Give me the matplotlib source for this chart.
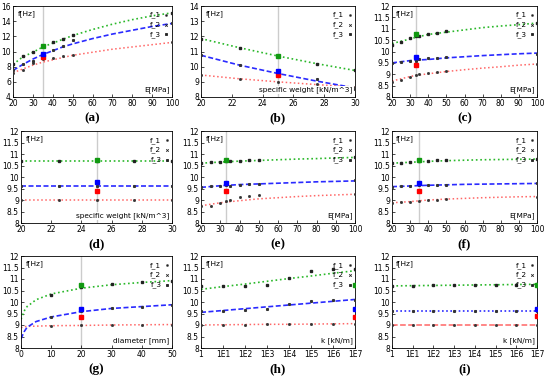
import numpy as np
import matplotlib.pyplot as plt

# (a) E[MPa]
a_x = [20, 25, 30, 35, 40, 45, 50, 60, 70, 80, 90, 100]
a_f3 = [8.3, 9.3, 9.9, 10.6, 11.1, 11.6, 12.1, 12.9, 13.6, 14.2, 14.7, 15.1]
a_f2 = [7.5, 8.3, 9.0, 9.6, 10.1, 10.6, 11.0, 11.7, 12.3, 12.8, 13.3, 13.7]
a_f1 = [7.2, 7.7, 8.2, 8.6, 8.9, 9.2, 9.5, 9.9, 10.3, 10.6, 10.9, 11.2]
a_px = [20, 25, 30, 35, 40, 45, 50, 100]
a_p3 = [8.3, 9.4, 10.0, 10.7, 11.2, 11.7, 12.2, 15.1]
a_p2 = [7.5, 8.3, 8.8, 9.7, 10.2, 10.7, 11.5, 13.7]
a_p1 = [7.1, 7.5, 8.5, 9.0, 9.2, 9.4, 9.6, 11.2]
a_ref = [35, 9.3, 9.7, 10.7]

# (b) specific weight
b_x = [20, 22.5, 25, 27.5, 30]
b_f3 = [11.85, 11.25, 10.7, 10.2, 9.75]
b_f2 = [10.75, 10.1, 9.55, 9.05, 8.6]
b_f1 = [9.45, 9.2, 9.0, 8.82, 8.65]
b_px = [20, 22.5, 25, 27.5, 30]
b_p3 = [11.85, 11.25, 10.7, 10.2, 9.75]
b_p2 = [10.75, 10.1, 9.6, 9.2, 8.5]
b_p1 = [9.45, 9.2, 9.0, 8.85, 8.65]
b_ref = [25, 9.45, 9.7, 10.7]

# (c) E[MPa]
c_x = [20, 30, 33, 40, 50, 60, 70, 80, 90, 100]
c_f3 = [10.35, 10.55, 10.62, 10.75, 10.85, 10.95, 11.05, 11.12, 11.18, 11.25]
c_f2 = [9.5, 9.6, 9.62, 9.65, 9.72, 9.77, 9.82, 9.86, 9.9, 9.93]
c_f1 = [8.7, 8.9, 8.95, 9.02, 9.12, 9.2, 9.27, 9.33, 9.4, 9.45]
c_px = [20, 25, 30, 33, 35, 40, 45, 50, 100]
c_p3 = [10.3, 10.4, 10.6, 10.7, 10.7, 10.75, 10.8, 10.9, 11.25]
c_p2 = [9.5, 9.55, 9.6, 9.6, 9.65, 9.7, 9.7, 9.75, 9.9]
c_p1 = [8.65, 8.75, 8.9, 8.95, 9.0, 9.05, 9.1, 9.15, 9.45]
c_ref = [33, 9.4, 9.75, 10.75]

# (d) specific weight
d_x = [20, 22.5, 25, 27.5, 30]
d_f3 = [10.7, 10.7, 10.7, 10.7, 10.7]
d_f2 = [9.62, 9.62, 9.62, 9.62, 9.62]
d_f1 = [9.0, 9.0, 9.0, 9.0, 9.0]
d_px = [20, 22.5, 25, 27.5, 30]
d_p3 = [10.7, 10.7, 10.7, 10.7, 10.7]
d_p2 = [9.62, 9.62, 9.62, 9.62, 9.62]
d_p1 = [9.0, 9.0, 9.0, 9.0, 9.0]
d_ref = [25, 9.4, 9.8, 10.75]

# (e) E[MPa]
e_x = [20, 30, 40, 50, 60, 70, 80, 90, 100]
e_f3 = [10.6, 10.65, 10.69, 10.72, 10.75, 10.78, 10.8, 10.83, 10.85]
e_f2 = [9.55, 9.62, 9.67, 9.7, 9.73, 9.76, 9.79, 9.81, 9.83]
e_f1 = [8.75, 8.88, 8.97, 9.05, 9.1, 9.15, 9.19, 9.22, 9.25]
e_px = [20, 25, 30, 33, 35, 40, 45, 50, 100]
e_p3 = [10.6, 10.65, 10.65, 10.7, 10.7, 10.7, 10.75, 10.75, 10.85]
e_p2 = [9.55, 9.6, 9.62, 9.65, 9.63, 9.67, 9.68, 9.7, 9.85]
e_p1 = [8.75, 8.75, 8.85, 8.95, 9.0, 9.15, 9.18, 9.2, 9.25]
e_ref = [33, 9.37, 9.72, 10.75]

# (f) E[MPa]
f_x = [20, 30, 40, 50, 60, 70, 80, 90, 100]
f_f3 = [10.6, 10.64, 10.68, 10.71, 10.73, 10.75, 10.76, 10.77, 10.78]
f_f2 = [9.58, 9.61, 9.64, 9.66, 9.68, 9.69, 9.7, 9.71, 9.72]
f_f1 = [8.88, 8.93, 9.0, 9.04, 9.07, 9.1, 9.12, 9.14, 9.15]
f_px = [20, 25, 30, 35, 40, 45, 50, 100]
f_p3 = [10.6, 10.62, 10.65, 10.7, 10.7, 10.72, 10.73, 10.78]
f_p2 = [9.58, 9.6, 9.62, 9.65, 9.65, 9.66, 9.66, 9.72]
f_p1 = [8.88, 8.9, 8.93, 8.97, 9.0, 9.02, 9.05, 9.15]
f_ref = [35, 9.38, 9.72, 10.75]

# (g) diameter [mm]
g_x = [0, 1, 2, 5, 10, 20, 30, 40, 50]
g_f3 = [9.25, 9.6, 9.8, 10.1, 10.35, 10.6, 10.75, 10.85, 10.93]
g_f2 = [8.4, 8.7, 8.9, 9.15, 9.35, 9.58, 9.72, 9.8, 9.88]
g_f1 = [8.88, 8.92, 8.94, 8.95, 8.97, 8.98, 9.0, 9.01, 9.02]
g_px = [10, 20, 30, 40, 50]
g_p3 = [10.32, 10.65, 10.78, 10.85, 10.93]
g_p2 = [9.35, 9.6, 9.72, 9.8, 9.88]
g_p1 = [8.97, 9.0, 9.0, 9.0, 9.02]
g_ref = [20, 9.35, 9.7, 10.72]

# (h) k [kN/m], x = log10(k)
h_x = [0, 1, 2, 3, 4, 5, 6, 7]
h_f3 = [10.55, 10.67, 10.78, 10.9, 11.02, 11.13, 11.25, 11.36]
h_f2 = [9.55, 9.63, 9.71, 9.79, 9.87, 9.95, 10.03, 10.11]
h_f1 = [9.0, 9.01, 9.02, 9.03, 9.03, 9.04, 9.05, 9.06]
h_px = [0, 1, 2, 3, 4, 5, 6, 7]
h_p3 = [10.7, 10.7, 10.7, 10.75, 11.05, 11.35, 11.45, 11.45]
h_p2 = [9.6, 9.6, 9.65, 9.68, 9.9, 10.05, 10.08, 10.1]
h_p1 = [9.0, 9.0, 9.02, 9.03, 9.03, 9.03, 9.03, 9.05]
h_ref = [7, 9.35, 9.7, 10.72]

# (i) k [kN/m]
i_x = [0, 1, 2, 3, 4, 5, 6, 7]
i_f3 = [10.7, 10.71, 10.72, 10.73, 10.74, 10.75, 10.76, 10.77]
i_f2 = [9.62, 9.62, 9.62, 9.62, 9.62, 9.62, 9.62, 9.62]
i_f1 = [9.0, 9.0, 9.0, 9.0, 9.0, 9.0, 9.0, 9.0]
i_px = [0, 1, 2, 3, 4, 5, 6, 7]
i_p3 = [10.7, 10.68, 10.72, 10.73, 10.75, 10.75, 10.76, 10.78]
i_p2 = [9.62, 9.62, 9.62, 9.62, 9.62, 9.62, 9.62, 9.62]
i_p1 = [9.0, 9.0, 9.0, 9.0, 9.0, 9.0, 9.0, 9.0]
i_ref = [7, 9.4, 9.7, 10.75]

k_ticks = [0, 1, 2, 3, 4, 5, 6, 7]
k_labels = ["1", "1E1", "1E2", "1E3", "1E4", "1E5", "1E6", "1E7"]

RED = "#ff6666"
BLUE = "#2a2aff"
GREEN = "#2ab82a"

fig = plt.figure(figsize=(5.5, 3.78), dpi=100)
W, H = 550.0, 378.0


def make_ax(l, r, t, b):
    return fig.add_axes([l / W, 1 - b / H, (r - l) / W, (b - t) / H])


def panel(ax, x, f1, f2, f3, px, p1, p2, p3, ref, xlim, ylim, yticks, xticks,
          xlabel, tag, vline=True, styles=(":", "--", ":")):
    if vline:
        ax.axvline(ref[0], color="#cccccc", lw=1.0, zorder=1)
    ax.plot(x, f1, ls=styles[0], color=RED, lw=1.1, zorder=2)
    ax.plot(x, f2, ls=styles[1], color=BLUE, lw=1.2, dashes=(3, 1.5) if styles[1] == "--" else (1, 1.5), zorder=2)
    ax.plot(x, f3, ls=styles[2], color=GREEN, lw=1.2, zorder=2)
    ax.plot(px, p1, "s", color="#333333", ms=1.0, zorder=3)
    ax.plot(px, p2, "s", color="#333333", ms=1.2, zorder=3)
    ax.plot(px, p3, "s", color="#222222", ms=1.5, zorder=3)
    ax.plot([ref[0]], [ref[1]], "s", color="red", ms=2.6, zorder=4)
    ax.plot([ref[0]], [ref[2]], "s", color="blue", ms=2.6, zorder=4)
    ax.plot([ref[0]], [ref[3]], "s", color="#119911", ms=2.6, zorder=4)
    ax.set_xlim(xlim)
    ax.set_ylim(ylim)
    ax.set_yticks(yticks)
    ax.set_xticks(xticks)
    ax.tick_params(direction="in", labelsize=5.5, length=2, width=0.5, pad=1.5)
    for s in ax.spines.values():
        s.set_linewidth(0.6)
    ax.text(0.03, 0.95, "f[Hz]", transform=ax.transAxes, fontsize=5.3, va="top", ha="left")
    ax.text(0.985, 0.04, xlabel, transform=ax.transAxes, fontsize=5.3, va="bottom", ha="right",
            bbox=dict(facecolor="white", edgecolor="none", pad=0.3), zorder=5)
    for k, (lab, mk, ms) in enumerate([("f_1", "s", 1.0), ("f_2", "x", 1.8), ("f_3", "s", 1.8)]):
        yy = 0.90 - 0.105 * k
        ax.text(0.93, yy, lab, transform=ax.transAxes, fontsize=5.3, va="center", ha="right", zorder=5)
        ax.plot([0.965], [yy], mk, color="#222222", ms=ms, mew=0.6, transform=ax.transAxes,
                clip_on=False, zorder=5)
    xm = np.mean(ax.get_position().intervalx)
    yb = ax.get_position().y0
    fig.text(xm, yb - 0.056, tag, ha="center", va="center", fontsize=9.5,
             fontweight="bold", family="Liberation Serif")


E_ticks = list(range(20, 101, 10))
sw_ticks = [20, 22, 24, 26, 28, 30]
y8 = np.arange(8, 12.01, 0.5)
y8_lab = ["8", "8.5", "9", "9.5", "10", "10.5", "11", "11.5", "12"]

ax = make_ax(13, 172, 6, 97)
panel(ax, a_x, a_f1, a_f2, a_f3, a_px, a_p1, a_p2, a_p3, a_ref, (20, 100), (4, 16),
      range(4, 17, 2), E_ticks, "E[MPa]", "(a)")

ax = make_ax(201, 355, 6, 97)
panel(ax, b_x, b_f1, b_f2, b_f3, b_px, b_p1, b_p2, b_p3, b_ref, (20, 30), (8, 14),
      range(8, 15), sw_ticks, "specific weight [kN/m^3]", "(b)")

ax = make_ax(392, 537, 6, 97)
panel(ax, c_x, c_f1, c_f2, c_f3, c_px, c_p1, c_p2, c_p3, c_ref, (20, 100), (8, 12),
      y8, E_ticks, "E[MPa]", "(c)")
ax.set_yticklabels(y8_lab)

ax = make_ax(21, 172, 131, 223)
panel(ax, d_x, d_f1, d_f2, d_f3, d_px, d_p1, d_p2, d_p3, d_ref, (20, 30), (8, 12),
      y8, sw_ticks, "specific weight [kN/m^3]", "(d)")
ax.set_yticklabels(y8_lab)

ax = make_ax(201, 355, 131, 223)
panel(ax, e_x, e_f1, e_f2, e_f3, e_px, e_p1, e_p2, e_p3, e_ref, (20, 100), (8, 12),
      y8, E_ticks, "E[MPa]", "(e)")
ax.set_yticklabels(y8_lab)

ax = make_ax(392, 537, 131, 223)
panel(ax, f_x, f_f1, f_f2, f_f3, f_px, f_p1, f_p2, f_p3, f_ref, (20, 100), (8, 12),
      y8, E_ticks, "E[MPa]", "(f)")
ax.set_yticklabels(y8_lab)

ax = make_ax(21, 172, 256, 348)
panel(ax, g_x, g_f1, g_f2, g_f3, g_px, g_p1, g_p2, g_p3, g_ref, (0, 50), (8, 12),
      y8, range(0, 51, 10), "diameter [mm]", "(g)")
ax.set_yticklabels(y8_lab)

ax = make_ax(201, 355, 256, 348)
panel(ax, h_x, h_f1, h_f2, h_f3, h_px, h_p1, h_p2, h_p3, h_ref, (0, 7), (8, 12),
      y8, k_ticks, "k [kN/m]", "(h)", vline=False)
ax.set_yticklabels(y8_lab)
ax.set_xticklabels(k_labels)

ax = make_ax(392, 537, 256, 348)
panel(ax, i_x, i_f1, i_f2, i_f3, i_px, i_p1, i_p2, i_p3, i_ref, (0, 7), (8, 12),
      y8, k_ticks, "k [kN/m]", "(i)", vline=False, styles=("--", ":", ":"))
ax.set_yticklabels(y8_lab)
ax.set_xticklabels(k_labels)

fig.savefig("out.png", dpi=100)
